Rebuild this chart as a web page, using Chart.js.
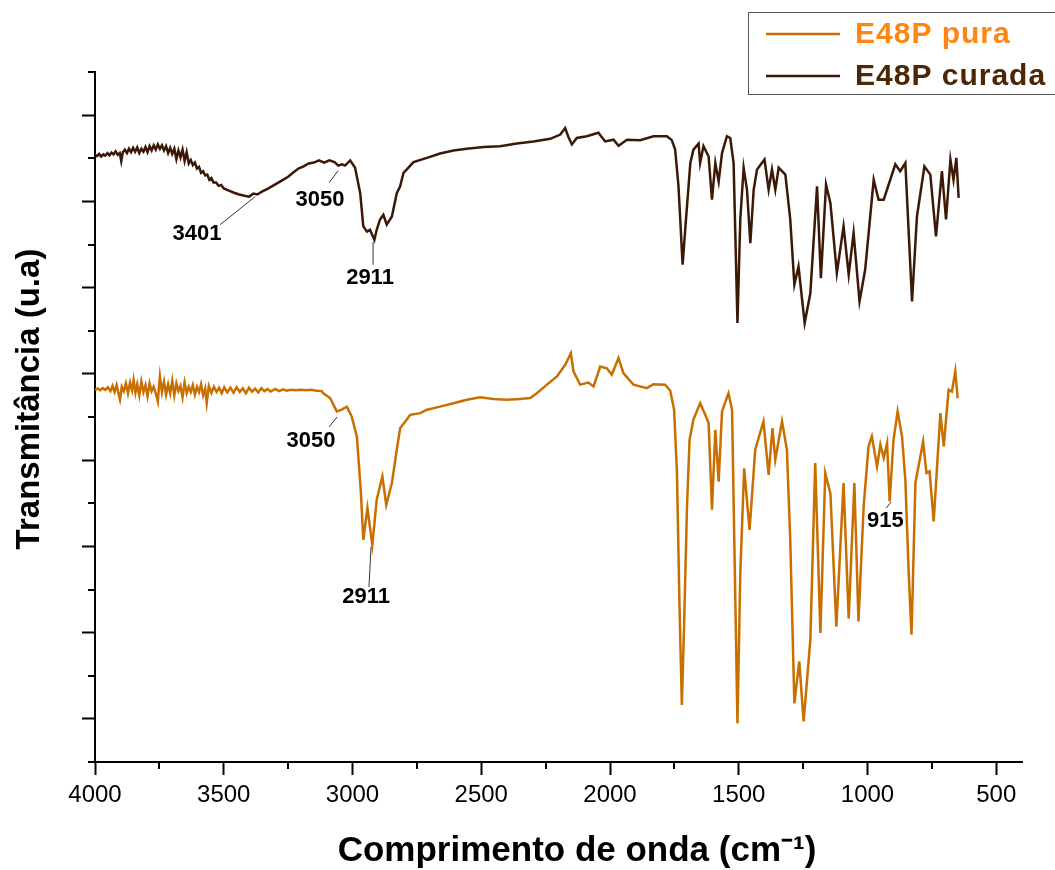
<!DOCTYPE html>
<html>
<head>
<meta charset="utf-8">
<script src="https://cdn.jsdelivr.net/npm/chart.js@4.4.1/dist/chart.umd.min.js"></script>
<style>
  html, body { margin: 0; padding: 0; background: #fff; }
  #wrap { width: 1055px; height: 870px; position: relative; }
</style>
</head>
<body>
<div id="wrap"><canvas id="ftirChart"></canvas></div>
<script>
// FTIR spectra, wavenumber (cm-1) vs transmittance (arbitrary units)
var seriesNames = ['E48P pura', 'E48P curada'];

var puraWn = [4000, 3990, 3980, 3970, 3960, 3950, 3940, 3932, 3924, 3916, 3908, 3903, 3896, 3888, 3880, 3872,
    3864, 3856, 3850, 3843, 3836, 3828, 3820, 3812, 3804, 3796, 3788, 3780, 3772, 3764, 3756, 3748, 3740, 3732,
    3724, 3716, 3708, 3700, 3692, 3684, 3676, 3668, 3660, 3652, 3644, 3636, 3628, 3620, 3612, 3604, 3596, 3588,
    3580, 3572, 3566, 3558, 3548, 3538, 3528, 3518, 3508, 3498, 3486, 3474, 3462, 3450, 3438, 3426, 3414, 3402,
    3390, 3378, 3366, 3354, 3342, 3330, 3318, 3300, 3285, 3270, 3255, 3240, 3220, 3200, 3180, 3160, 3140, 3120,
    3113, 3087, 3061, 3042, 3022, 3003, 2983, 2968, 2958, 2942, 2923, 2906, 2884, 2869, 2847, 2828,
    2815, 2789, 2776, 2737, 2711, 2660, 2608, 2556, 2504, 2453, 2401, 2349, 2310, 2284, 2245, 2206, 2174, 2152,
    2142, 2116, 2084, 2064, 2038, 2012, 1993, 1967, 1948, 1909, 1857, 1831, 1786, 1766, 1751, 1740, 1730, 1721,
    1712, 1701, 1691, 1676, 1650, 1630, 1617, 1604, 1591, 1578, 1565, 1540, 1526, 1514, 1505, 1494, 1479, 1458,
    1436, 1404, 1384, 1369, 1358, 1332, 1313, 1300, 1284, 1265, 1248, 1222, 1203, 1183, 1164, 1144, 1121, 1093,
    1073, 1051, 1035, 1015, 996, 983, 963, 950, 937, 924, 914, 899, 883, 866, 853, 840, 829, 814, 784, 771, 759,
    743, 717, 704, 685, 672, 659, 650];
var puraT = [8.63, 8.66, 8.62, 8.67, 8.63, 8.69, 8.60, 8.72, 8.58, 8.74, 8.52, 8.40, 8.70, 8.60, 8.78, 8.55,
    8.80, 8.62, 8.86, 8.56, 8.76, 8.50, 8.82, 8.58, 8.74, 8.48, 8.78, 8.60, 8.70, 8.55, 8.36, 8.94, 8.58, 8.82,
    8.52, 8.76, 8.55, 8.84, 8.50, 8.78, 8.60, 8.72, 8.46, 8.80, 8.55, 8.70, 8.58, 8.74, 8.52, 8.70, 8.58, 8.76,
    8.50, 8.66, 8.33, 8.72, 8.56, 8.70, 8.58, 8.68, 8.55, 8.69, 8.57, 8.68, 8.56, 8.69, 8.58, 8.67, 8.55, 8.68,
    8.59, 8.66, 8.57, 8.67, 8.60, 8.65, 8.59, 8.65, 8.60, 8.64, 8.61, 8.63, 8.62, 8.63, 8.62, 8.63, 8.61, 8.60,
    8.55, 8.44, 8.13, 8.17, 8.24, 8.01, 7.55, 6.31, 5.15, 5.89, 5.03, 6.08, 6.62, 5.96, 6.47, 7.24,
    7.74, 7.94, 8.05, 8.09, 8.17, 8.24, 8.32, 8.40, 8.46, 8.42, 8.40, 8.42, 8.44, 8.55, 8.75, 8.94, 9.21, 9.48,
    9.06, 8.75, 8.80, 8.71, 9.17, 9.13, 8.98, 9.37, 9.02, 8.75, 8.67, 8.76, 8.75, 8.61, 8.17, 6.71, 3.60, 1.32,
    3.22, 5.92, 7.47, 7.94, 8.32, 8.05, 7.86, 5.85, 7.70, 6.50, 8.13, 8.55, 8.17, 3.99, 0.90, 4.38, 6.81, 5.38,
    7.24, 7.90, 6.66, 7.74, 7.01, 7.90, 7.24, 5.15, 1.36, 2.33, 0.94, 2.83, 6.93, 2.99, 6.70, 6.23, 3.14, 6.47,
    3.33, 6.47, 3.26, 5.92, 7.32, 7.55, 6.85, 7.36, 7.05, 7.39, 6.04, 7.47, 8.13, 7.55, 6.54, 4.38, 2.95, 6.47,
    7.43, 6.70, 6.74, 5.58, 8.09, 7.32, 8.63, 8.59, 9.06, 8.44];

var curadaWn = [4000, 3992, 3984, 3976, 3968, 3960, 3952, 3944, 3936, 3928, 3920, 3912, 3904, 3898, 3892, 3884,
    3876, 3868, 3860, 3852, 3844, 3836, 3828, 3820, 3812, 3804, 3796, 3788, 3780, 3772, 3764, 3756, 3748, 3740,
    3732, 3724, 3716, 3708, 3700, 3692, 3684, 3676, 3668, 3660, 3652, 3644, 3636, 3628, 3620, 3612, 3604, 3596,
    3588, 3580, 3572, 3564, 3556, 3548, 3540, 3530, 3520, 3510, 3500, 3480, 3460, 3440, 3420, 3401, 3385, 3370,
    3350, 3330, 3310, 3290, 3270, 3250, 3230, 3210, 3190, 3170, 3150, 3130, 3110, 3090, 3070, 3055, 3040, 3029,
    3009, 2990, 2970, 2958, 2944, 2932, 2915, 2906, 2893, 2880, 2867, 2847, 2828, 2815, 2802, 2789, 2763, 2711,
    2660, 2608, 2556, 2491, 2427, 2362, 2297, 2232, 2193, 2174, 2162, 2148, 2129, 2090, 2045, 2019, 1986, 1967,
    1934, 1883, 1831, 1779, 1760, 1747, 1734, 1718, 1708, 1695, 1688, 1676, 1656, 1650, 1637, 1617, 1604, 1591,
    1578, 1565, 1546, 1533, 1520, 1505, 1494, 1481, 1468, 1455, 1442, 1429, 1400, 1384, 1371, 1358, 1345, 1319,
    1300, 1284, 1268, 1244, 1222, 1196, 1181, 1161, 1144, 1119, 1093, 1073, 1054, 1031, 1009, 976, 957, 937,
    892, 873, 853, 827, 808, 779, 756, 734, 711, 695, 678, 666, 655, 646];
var curadaT = [14.08, 14.05, 14.10, 14.04, 14.09, 14.06, 14.12, 14.07, 14.13, 14.09, 14.16, 14.08, 14.12, 13.93,
    14.14, 14.20, 14.12, 14.22, 14.14, 14.24, 14.15, 14.25, 14.12, 14.22, 14.15, 14.26, 14.14, 14.28, 14.18, 14.30,
    14.20, 14.32, 14.22, 14.30, 14.18, 14.28, 14.12, 14.24, 14.10, 14.22, 13.98, 14.18, 14.02, 14.20, 13.94, 14.14,
    13.88, 13.96, 13.84, 13.90, 13.76, 13.80, 13.66, 13.70, 13.60, 13.62, 13.50, 13.54, 13.44, 13.44, 13.36, 13.38,
    13.30, 13.25, 13.20, 13.16, 13.13, 13.11, 13.18, 13.16, 13.23, 13.29, 13.36, 13.43, 13.50, 13.57, 13.67, 13.76,
    13.81, 13.88, 13.90, 13.95, 13.90, 13.95, 13.91, 13.83, 13.86, 13.83, 13.95, 13.78, 13.19, 12.42, 12.30, 12.34,
    12.11, 12.34, 12.58, 12.69, 12.46, 12.65, 13.19, 13.35, 13.66, 13.74, 13.91, 14.01, 14.11, 14.18, 14.22, 14.26,
    14.28, 14.34, 14.39, 14.45, 14.55, 14.70, 14.50, 14.32, 14.47, 14.51, 14.59, 14.39, 14.43, 14.29, 14.43, 14.42,
    14.51, 14.51, 14.42, 14.20, 13.35, 11.53, 12.34, 13.35, 13.89, 14.20, 14.34, 13.89, 14.28, 14.04, 13.04, 13.89,
    13.46, 14.12, 14.51, 14.47, 13.89, 10.18, 12.58, 13.78, 13.27, 12.03, 13.27, 13.74, 13.97, 13.27, 13.74, 13.27,
    13.78, 13.62, 12.58, 11.07, 11.49, 10.18, 10.87, 13.35, 11.22, 13.39, 12.96, 11.34, 12.42, 11.30, 12.27, 10.68,
    11.42, 13.50, 13.04, 13.04, 13.86, 13.70, 13.89, 10.68, 12.65, 13.81, 13.62, 12.19, 13.70, 12.58, 13.97, 13.50,
    14.01, 13.08];

var xMajorTicks = [4000, 3500, 3000, 2500, 2000, 1500, 1000, 500];
var xMinorTicks = [3750, 3250, 2750, 2250, 1750, 1250, 750];
var yMajorTicks = [1, 3, 5, 7, 9, 11, 13, 15];
var yMinorTicks = [0, 2, 4, 6, 8, 10, 12, 14, 16];

// peak labels: text anchor and leader line, in data units
var peakLabels = [
    { text: '3401', at: [3604, 12.25], from: [3514, 12.46], to: [3378, 13.11] },
    { text: '3050', at: [3126, 13.04], from: [3091, 13.43], to: [3056, 13.71] },
    { text: '2911', at: [2932, 11.23], from: [2920, 12.06], to: [2920, 11.53] },
    { text: '3050', at: [3161, 7.45], from: [3091, 7.77], to: [3060, 8.00] },
    { text: '2911', at: [2947, 3.83], from: [2928, 4.99], to: [2936, 4.06] },
    { text: '915', at: [931, 5.59], from: [927, 5.89], to: [908, 6.03] }
];

var FONT = '"Liberation Sans", Arial, sans-serif';
var lineColors = ['#c96f00', '#3c1807'];
var legendTextColors = ['#ff8612', '#4a2806'];

function toPoints(xs, ys) {
    return xs.map(function(x, i) { return { x: x, y: ys[i] }; });
}

var ftirDecor = {
    id: 'ftirDecor',
    afterDraw: function(chart) {
        var ctx = chart.ctx;
        var xs = chart.scales.x, ys = chart.scales.y;
        var area = chart.chartArea;
        ctx.save();

        // ── minor ticks ──
        ctx.strokeStyle = '#000';
        ctx.lineWidth = 2;
        xMinorTicks.forEach(function(v) {
            var px = Math.round(xs.getPixelForValue(v));
            ctx.beginPath(); ctx.moveTo(px, area.bottom); ctx.lineTo(px, area.bottom + 7); ctx.stroke();
        });
        yMinorTicks.forEach(function(v) {
            var py = Math.round(ys.getPixelForValue(v));
            ctx.beginPath(); ctx.moveTo(area.left, py); ctx.lineTo(area.left - 7, py); ctx.stroke();
        });

        // ── peak labels ──
        ctx.strokeStyle = '#333';
        ctx.lineWidth = 1;
        ctx.fillStyle = '#000';
        ctx.font = 'bold 22px ' + FONT;
        ctx.textAlign = 'center';
        ctx.textBaseline = 'middle';
        peakLabels.forEach(function(p) {
            ctx.beginPath();
            ctx.moveTo(xs.getPixelForValue(p.from[0]), ys.getPixelForValue(p.from[1]));
            ctx.lineTo(xs.getPixelForValue(p.to[0]), ys.getPixelForValue(p.to[1]));
            ctx.stroke();
            ctx.fillText(p.text, xs.getPixelForValue(p.at[0]), ys.getPixelForValue(p.at[1]));
        });

        // ── legend box ──
        ctx.strokeStyle = '#555';
        ctx.lineWidth = 1;
        ctx.strokeRect(748.5, 12.5, 320, 82);
        ctx.font = 'bold 30px ' + FONT;
        ctx.textAlign = 'left';
        ctx.letterSpacing = '1px';
        seriesNames.forEach(function(name, i) {
            var ly = 34 + i * 42;
            ctx.strokeStyle = lineColors[i];
            ctx.lineWidth = 2.5;
            ctx.beginPath(); ctx.moveTo(766, ly); ctx.lineTo(840, ly); ctx.stroke();
            ctx.fillStyle = legendTextColors[i];
            ctx.fillText(name, 855, ly + 1);
        });
        ctx.letterSpacing = '0px';

        // ── axis titles ──
        ctx.fillStyle = '#000';
        ctx.font = 'bold 35px ' + FONT;
        ctx.textAlign = 'center';
        ctx.fillText('Comprimento de onda (cm\u207B\u00B9)', 577, 851);
        ctx.font = 'bold 33px ' + FONT;
        ctx.translate(30, 399);
        ctx.rotate(-Math.PI / 2);
        ctx.fillText('Transmitância (u.a)', 0, 0);

        ctx.restore();
    }
};

new Chart(document.getElementById('ftirChart').getContext('2d'), {
    type: 'line',
    data: {
        datasets: [{
            label: seriesNames[0],
            data: toPoints(puraWn, puraT),
            borderColor: lineColors[0],
            borderWidth: 2.5,
            pointRadius: 0,
            tension: 0,
            fill: false
        }, {
            label: seriesNames[1],
            data: toPoints(curadaWn, curadaT),
            borderColor: lineColors[1],
            borderWidth: 2.5,
            pointRadius: 0,
            tension: 0,
            fill: false
        }]
    },
    options: {
        responsive: true,
        maintainAspectRatio: false,
        animation: false,
        layout: { padding: { left: 0, right: 33, top: 72, bottom: 0 } },
        plugins: {
            legend: { display: false },
            tooltip: { enabled: false }
        },
        scales: {
            x: {
                type: 'linear',
                reverse: true,
                min: 400,
                max: 4000,
                afterBuildTicks: function(scale) {
                    scale.ticks = xMajorTicks.map(function(v) { return { value: v }; });
                },
                afterFit: function(scale) { scale.height = 108; },
                grid: { drawOnChartArea: false, drawTicks: true, tickLength: 13, tickWidth: 2, tickColor: '#000' },
                border: { display: true, color: '#000', width: 2 },
                ticks: {
                    color: '#000',
                    font: { family: FONT, size: 24 },
                    padding: 6,
                    maxRotation: 0,
                    autoSkip: false,
                    callback: function(value) { return String(value); }
                }
            },
            y: {
                min: 0,
                max: 16,
                afterBuildTicks: function(scale) {
                    scale.ticks = yMajorTicks.map(function(v) { return { value: v }; });
                },
                afterFit: function(scale) { scale.width = 95; },
                grid: { drawOnChartArea: false, drawTicks: true, tickLength: 13, tickWidth: 2, tickColor: '#000' },
                border: { display: true, color: '#000', width: 2 },
                ticks: { display: false }
            }
        }
    },
    plugins: [ftirDecor]
});
</script>
</body>
</html>
